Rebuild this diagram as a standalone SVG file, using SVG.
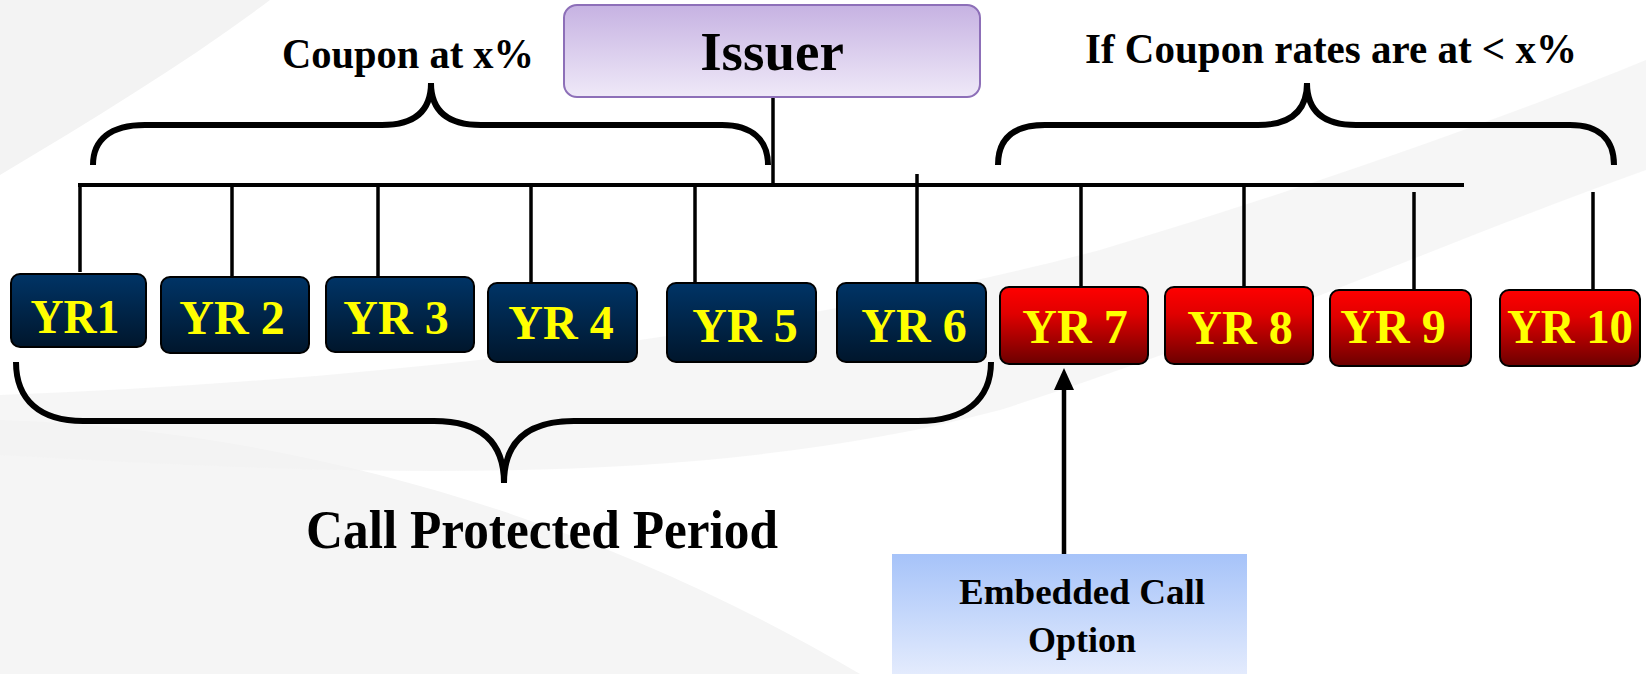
<svg xmlns="http://www.w3.org/2000/svg" width="1646" height="674" viewBox="0 0 1646 674">
<defs>
<linearGradient id="gBlue" x1="0" y1="0" x2="0" y2="1"><stop offset="0" stop-color="#003466"/><stop offset="1" stop-color="#00162c"/></linearGradient>
<linearGradient id="gRed" x1="0" y1="0" x2="0" y2="1"><stop offset="0" stop-color="#ff0000"/><stop offset="0.35" stop-color="#e00000"/><stop offset="1" stop-color="#6c0000"/></linearGradient>
<linearGradient id="gIssuer" x1="0" y1="0" x2="0" y2="1"><stop offset="0" stop-color="#c6b2e2"/><stop offset="1" stop-color="#efe9f8"/></linearGradient>
<linearGradient id="gEmb" x1="0" y1="0" x2="0" y2="1"><stop offset="0" stop-color="#a6c3f9"/><stop offset="1" stop-color="#e3ebfd"/></linearGradient>
<marker id="arrow" viewBox="0 0 22 20" refX="2" refY="10" markerWidth="22" markerHeight="20" markerUnits="userSpaceOnUse" orient="auto">
<path d="M0,0 L22,10 L0,20 Z" fill="#000"/>
</marker>
</defs>
<style>
.yr{stroke:#000;stroke-width:2}
.blue{fill:url(#gBlue)}
.red{fill:url(#gRed)}
.yt{font-family:"Liberation Serif","Times New Roman",serif;font-weight:bold;font-size:48px;fill:#ffff00;text-anchor:middle}
.lbl{font-family:"Liberation Serif","Times New Roman",serif;font-weight:bold;fill:#000}
.brace{fill:none;stroke:#000;stroke-width:6}
.tick{stroke:#000;stroke-width:3.5}
</style>
<rect width="1646" height="674" fill="#ffffff"/>
<g id="background">
<path d="M0,0 L270,0 C190,60 100,115 0,175 Z" fill="#f3f3f3"/>
<path d="M0,420 C300,430 600,520 860,674 L0,674 Z" fill="#f5f5f5"/>
<path d="M0,395 C400,380 800,330 1100,250 C1300,190 1500,120 1646,60 L1646,170 C1450,240 1250,330 1000,410 C700,490 350,475 0,455 Z" fill="#f2f2f2" opacity="0.7"/>
</g>
<g id="connectors">
<line x1="78" y1="185" x2="1464" y2="185" stroke="#000" stroke-width="4"/>
<line x1="773" y1="97" x2="773" y2="185" stroke="#000" stroke-width="3.5"/>
<line class="tick" x1="80" y1="184" x2="80" y2="272"/>
<line class="tick" x1="232" y1="185" x2="232" y2="276"/>
<line class="tick" x1="378" y1="185" x2="378" y2="276"/>
<line class="tick" x1="531" y1="185" x2="531" y2="282"/>
<line class="tick" x1="695" y1="185" x2="695" y2="282"/>
<line class="tick" x1="917" y1="174" x2="917" y2="282"/>
<line class="tick" x1="1081" y1="185" x2="1081" y2="286"/>
<line class="tick" x1="1244" y1="185" x2="1244" y2="286"/>
<line class="tick" x1="1414" y1="192" x2="1414" y2="290"/>
<line class="tick" x1="1593" y1="192" x2="1593" y2="290"/>
<line x1="1064" y1="554" x2="1064" y2="388" stroke="#000" stroke-width="4.5" marker-end="url(#arrow)"/>
</g>
<g id="braces">
<path class="brace" d="M93,165 C93,140 110,125 145,125 L382,125 Q431,125 431,83 Q431,125 481,125 L722,125 C752,125 768,140 768,165"/>
<path class="brace" d="M998,165 C998,140 1012,125 1045,125 L1258,125 Q1307,125 1307,83 Q1307,125 1356,125 L1570,125 C1600,125 1614,140 1614,165"/>
<path class="brace" d="M16,362 C16,400 40,421 83,421 L434,421 Q504,421 504,483 Q504,421 574,421 L918,421 C965,421 991,400 991,362"/>
</g>
<g id="issuer">
<rect x="564" y="5" width="416" height="92" rx="13" fill="url(#gIssuer)" stroke="#8d6fb8" stroke-width="2"/>
<text class="lbl" x="772" y="70" font-size="55" text-anchor="middle">Issuer</text>
</g>
<g id="label-coupon">
<text class="lbl" x="282" y="68" font-size="42" textLength="252" lengthAdjust="spacingAndGlyphs">Coupon at x%</text>
</g>
<g id="label-rates">
<text class="lbl" x="1085" y="63" font-size="42" textLength="492" lengthAdjust="spacingAndGlyphs">If Coupon rates are at &lt; x%</text>
</g>
<g id="label-call-protected">
<text class="lbl" x="306" y="548" font-size="54" textLength="472" lengthAdjust="spacingAndGlyphs">Call Protected Period</text>
</g>
<g id="yr1"><rect class="yr blue" x="11" y="274" width="135" height="73" rx="9"/><text class="yt" x="75" y="333" textLength="89" lengthAdjust="spacingAndGlyphs">YR1</text></g>
<g id="yr2"><rect class="yr blue" x="161" y="277" width="148" height="76" rx="9"/><text class="yt" x="232" y="334">YR 2</text></g>
<g id="yr3"><rect class="yr blue" x="326" y="277" width="148" height="75" rx="9"/><text class="yt" x="396" y="334">YR 3</text></g>
<g id="yr4"><rect class="yr blue" x="488" y="283" width="149" height="79" rx="9"/><text class="yt" x="561" y="339">YR 4</text></g>
<g id="yr5"><rect class="yr blue" x="667" y="283" width="149" height="79" rx="9"/><text class="yt" x="745" y="342">YR 5</text></g>
<g id="yr6"><rect class="yr blue" x="837" y="283" width="149" height="79" rx="9"/><text class="yt" x="914" y="342">YR 6</text></g>
<g id="yr7"><rect class="yr red" x="1000" y="287" width="148" height="77" rx="9"/><text class="yt" x="1075" y="343">YR 7</text></g>
<g id="yr8"><rect class="yr red" x="1165" y="287" width="148" height="77" rx="9"/><text class="yt" x="1240" y="344">YR 8</text></g>
<g id="yr9"><rect class="yr red" x="1330" y="290" width="141" height="76" rx="9"/><text class="yt" x="1393" y="343">YR 9</text></g>
<g id="yr10"><rect class="yr red" x="1500" y="290" width="140" height="76" rx="9"/><text class="yt" x="1570" y="343" textLength="126" lengthAdjust="spacingAndGlyphs">YR 10</text></g>
<g id="embedded-call">
<rect x="892" y="554" width="355" height="120" fill="url(#gEmb)"/>
<text class="lbl" x="1082" y="604" font-size="36" text-anchor="middle" textLength="246" lengthAdjust="spacingAndGlyphs">Embedded Call</text>
<text class="lbl" x="1082" y="652" font-size="36" text-anchor="middle">Option</text>
</g>
</svg>
